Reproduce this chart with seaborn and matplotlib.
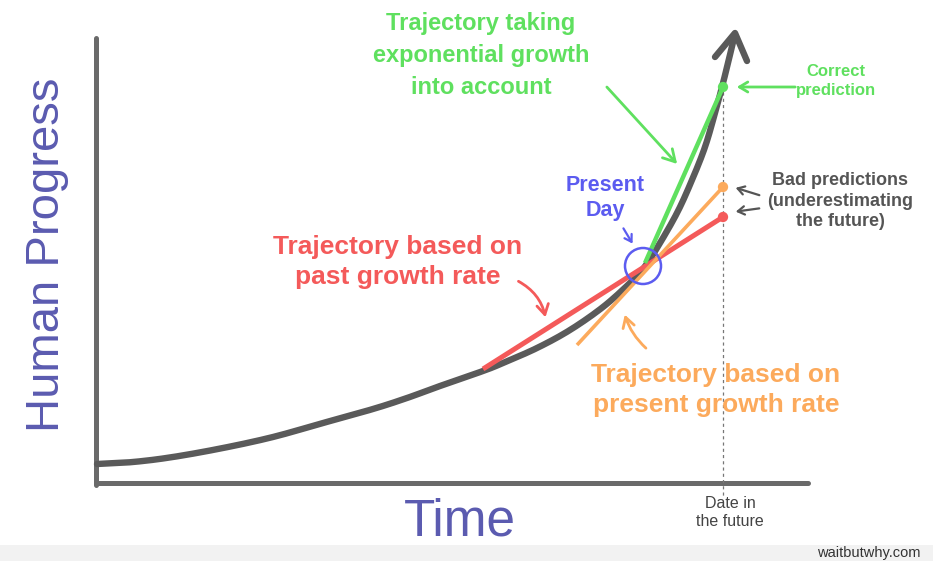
import matplotlib
matplotlib.use("Agg")
import matplotlib.pyplot as plt
import seaborn as sns
import numpy as np
import pandas as pd
from matplotlib.patches import Circle, Rectangle

sns.set_theme(style="white")
plt.rcParams['font.family'] = ['Liberation Sans', 'DejaVu Sans']

# ---- data (illustration coordinates, pixel-like units) ----
curve_x = [97, 133, 173, 223, 273, 323, 373, 407, 440, 483, 503, 537, 570, 603, 630, 643,
           657, 677, 692, 705, 715, 722, 728, 734]
curve_y = [464, 462, 457, 448, 437, 423, 409, 398, 386, 371, 363, 348, 330, 307, 283, 269,
           248, 213, 180, 147, 113, 87, 63, 38]

present_x, present_y = 643, 266
future_x = 723
green_line_x = [645, 723]
green_line_y = [263, 87]
orange_line_x = [577, 723]
orange_line_y = [345, 187]
red_line_x = [483, 723]
red_line_y = [369, 217]

GRAY = "#5a5a5a"
AXIS = "#6a6a6a"
GREEN = "#5fe05f"
ORANGE = "#fcaa5c"
RED = "#f45a5a"
BLUE = "#5c5cf0"
LABEL = "#5b5bb0"


def catmull_rom(xs, ys, n=12):
    p = np.column_stack([xs, ys]).astype(float)
    p = np.vstack([p[0], p, p[-1]])
    out = []
    t = np.linspace(0, 1, n, endpoint=False)[:, None]
    for i in range(1, len(p) - 2):
        p0, p1, p2, p3 = p[i - 1], p[i], p[i + 1], p[i + 2]
        seg = 0.5 * ((2 * p1) + (-p0 + p2) * t + (2 * p0 - 5 * p1 + 4 * p2 - p3) * t ** 2
                     + (-p0 + 3 * p1 - 3 * p2 + p3) * t ** 3)
        out.append(seg)
    out.append(p[-2][None, :])
    return np.vstack(out)


fig = plt.figure(figsize=(9.33, 5.61), dpi=100)
ax = fig.add_axes([0, 0, 1, 1])
ax.set_xlim(0, 933)
ax.set_ylim(561, 0)
ax.axis("off")

# bottom strip
ax.add_patch(Rectangle((0, 545), 933, 16, facecolor="#f2f2f2", edgecolor="none"))
ax.text(921, 553, "waitbutwhy.com", ha="right", va="center", fontsize=10.5, color="#333333")

# axes
ax.plot([96, 96], [38, 485], color=AXIS, lw=3.6, solid_capstyle="round")
ax.plot([96, 808], [483, 483], color=AXIS, lw=3.6, solid_capstyle="round")

# dotted future line
ax.plot([future_x, future_x], [92, 496], color="#777777", lw=0.9, ls=(0, (2.5, 2.5)))

# main curve (smoothed through the read points)
sm = catmull_rom(curve_x, curve_y)
df = pd.DataFrame({"x": sm[:, 0], "y": sm[:, 1]})
sns.lineplot(data=df, x="x", y="y", sort=False, color=GRAY, lw=4.6, ax=ax, estimator=None)
ax.lines[-1].set_solid_capstyle("round")
ax.set_xlabel("")
ax.set_ylabel("")
# arrow head
ax.plot([715, 735, 747], [57, 33, 61], color=GRAY, lw=4.6,
        solid_capstyle="round", solid_joinstyle="round")

# prediction lines
ax.plot(red_line_x, red_line_y, color=RED, lw=3.6, solid_capstyle="butt")
ax.plot(orange_line_x, orange_line_y, color=ORANGE, lw=2.6, solid_capstyle="butt")
ax.plot(green_line_x, green_line_y, color=GREEN, lw=3.2, solid_capstyle="butt")
ax.scatter([future_x], [green_line_y[1]], s=55, color=GREEN, zorder=5, edgecolor="none")
ax.scatter([future_x], [orange_line_y[1]], s=55, color=ORANGE, zorder=5, edgecolor="none")
ax.scatter([future_x], [red_line_y[1]], s=55, color=RED, zorder=5, edgecolor="none")

# present day circle
ax.add_patch(Circle((present_x, present_y), 18, fill=False, edgecolor=BLUE, lw=1.8, zorder=6))

# axis labels
ax.text(47, 255, "Human Progress", rotation=90, ha="center", va="center",
        fontsize=34, color=LABEL)
ax.text(460, 522, "Time", ha="center", va="center", fontsize=37, color=LABEL)
ax.text(730, 513, "Date in\nthe future", ha="center", va="center", fontsize=11.5,
        color="#444444", linespacing=1.25)

# annotations
ax.text(481, 55, "Trajectory taking\nexponential growth\ninto account", ha="center",
        va="center", fontsize=17, fontweight="bold", color=GREEN, linespacing=1.5)
ax.annotate("", xy=(679, 166), xytext=(605, 85),
            arrowprops=dict(arrowstyle="->,head_length=0.7,head_width=0.4", color=GREEN, lw=2))

ax.text(836, 81, "Correct\nprediction", ha="center", va="center", fontsize=12,
        fontweight="bold", color=GREEN, linespacing=1.4)
ax.annotate("", xy=(734, 87), xytext=(798, 87),
            arrowprops=dict(arrowstyle="->,head_length=0.5,head_width=0.3", color=GREEN, lw=2))

ax.text(840, 201, "Bad predictions\n(underestimating\nthe future)", ha="center",
        va="center", fontsize=13, fontweight="bold", color="#555555", linespacing=1.3)
ax.annotate("", xy=(733, 187), xytext=(762, 196),
            arrowprops=dict(arrowstyle="->,head_length=0.4,head_width=0.25", color="#555555", lw=1.6))
ax.annotate("", xy=(733, 212), xytext=(762, 208),
            arrowprops=dict(arrowstyle="->,head_length=0.4,head_width=0.25", color="#555555", lw=1.6))

ax.text(605, 198, "Present\nDay", ha="center", va="center", fontsize=15.5,
        fontweight="bold", color=BLUE, linespacing=1.25)
ax.annotate("", xy=(634, 246), xytext=(622, 226),
            arrowprops=dict(arrowstyle="->,head_length=0.4,head_width=0.25", color=BLUE, lw=1.6))

ax.text(398, 262, "Trajectory based on\npast growth rate", ha="center", va="center",
        fontsize=19, fontweight="bold", color=RED, linespacing=1.32)
ax.annotate("", xy=(546, 320), xytext=(516, 280),
            arrowprops=dict(arrowstyle="->,head_length=0.6,head_width=0.35", color=RED, lw=2,
                            connectionstyle="arc3,rad=-0.25"))

ax.text(716, 390, "Trajectory based on\npresent growth rate", ha="center", va="center",
        fontsize=19, fontweight="bold", color=ORANGE, linespacing=1.32)
ax.annotate("", xy=(624, 312), xytext=(648, 350),
            arrowprops=dict(arrowstyle="->,head_length=0.6,head_width=0.35", color=ORANGE, lw=2,
                            connectionstyle="arc3,rad=-0.15"))

fig.savefig("out.png", dpi=100)
